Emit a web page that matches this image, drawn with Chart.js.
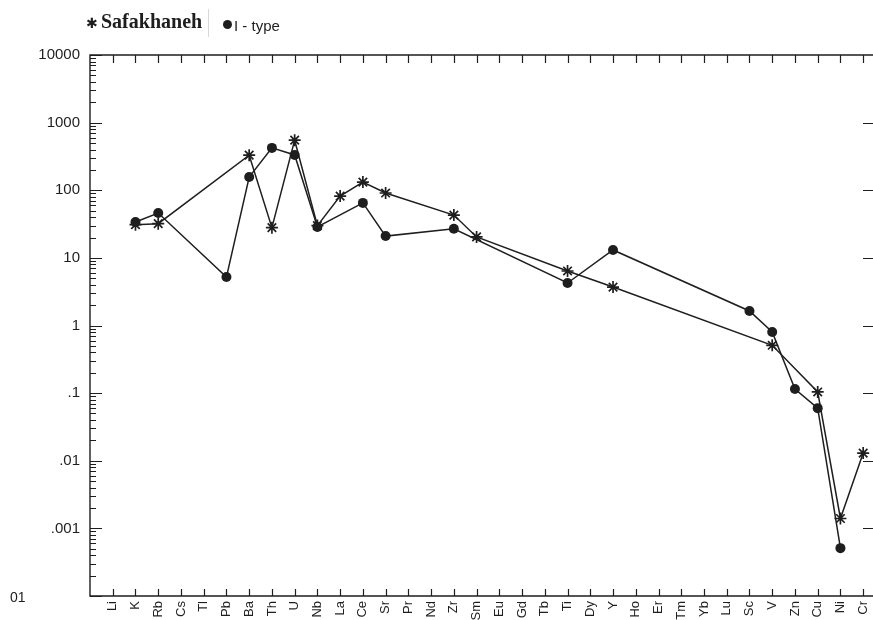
<!DOCTYPE html>
<html lang="en">

<head>
   <meta charset="UTF-8">
   <title>Safakhaneh vs I-type spider diagram</title>
   <script src="https://cdn.jsdelivr.net/npm/chart.js@4/dist/chart.umd.min.js"></script>
   <style>
      html, body { margin: 0; padding: 0; background: #fff; overflow: hidden; }
      .wrap { position: relative; width: 900px; height: 640px; }
      #myChart { position: absolute; left: 0; top: 0; }
      .legend span { position: absolute; white-space: nowrap; color: #1e1e1e; }
      .lg-star { left: 86px; top: 16px; font: 14px "DejaVu Sans"; line-height: 14px; }
      .lg-name1 { left: 101px; top: 11px; font: bold 20px "Liberation Serif"; line-height: 20px; }
      .lg-sep { left: 208px; top: 9px; width: 1px; height: 28px; background: #d8d8d8; }
      .lg-dot { left: 223px; top: 20px; width: 9px; height: 9px; border-radius: 50%; background: #1e1e1e; }
      .lg-name2 { left: 234px; top: 18px; font: 15px "Liberation Sans"; line-height: 15px; }
   </style>
</head>

<body>
   <div class="wrap">
      <canvas id="myChart" width="900" height="640"></canvas>
      <div class="legend">
         <span class="lg-star">✱</span>
         <span class="lg-name1">Safakhaneh</span>
         <span class="lg-sep"></span>
         <span class="lg-dot"></span>
         <span class="lg-name2">I - type</span>
      </div>
   </div>

   <script>
      // elements along the x axis
      const elements = ['Li', 'K', 'Rb', 'Cs', 'Tl', 'Pb', 'Ba', 'Th', 'U', 'Nb', 'La', 'Ce', 'Sr', 'Pr', 'Nd', 'Zr', 'Sm',
         'Eu', 'Gd', 'Tb', 'Ti', 'Dy', 'Y', 'Ho', 'Er', 'Tm', 'Yb', 'Lu', 'Sc', 'V', 'Zn', 'Cu', 'Ni', 'Cr'];

      // Safakhaneh (star markers), null = not plotted
      const safakhaneh = [null, 31, 32, null, null, null, 330, 28, 550, 30, 82, 132, 91, null, null, 43, 20.4,
         null, null, null, 6.4, null, 3.7, null, null, null, null, null, null, 0.51, null, 0.104, 0.0014, 0.013];

      // I-type (filled circles)
      const iType = [null, 34, 46, null, null, 5.2, 157, 423, 333, 28.6, null, 65, 21, null, null, 27, null,
         null, null, null, 4.25, null, 13.1, null, null, null, null, null, 1.64, 0.80, 0.115, 0.060, 0.00051, null];

      // y axis decades and their printed labels
      const yDecades = [10000, 1000, 100, 10, 1, 0.1, 0.01, 0.001, 0.0001];
      const yLabels = ['10000', '1000', '100', '10', '1', '.1', '.01', '.001', ''];
      const yBottomLabel = '01';

      const ink = '#1e1e1e';

      const toPoints = arr => arr.map((v, i) => ({ x: i, y: v }));

      // inward tick marks on all four sides + the frame
      const frameTicks = {
         id: 'frameTicks',
         afterDraw(chart) {
            const { ctx, chartArea: a, scales } = chart;
            const xs = scales.x, ys = scales.y;
            ctx.save();
            ctx.strokeStyle = ink;
            ctx.lineWidth = 1.4;
            ctx.beginPath();
            ctx.moveTo(a.right, a.top);
            ctx.lineTo(a.left, a.top);
            ctx.lineTo(a.left, a.bottom);
            ctx.lineTo(a.right, a.bottom);
            ctx.stroke();

            ctx.lineWidth = 1.2;
            ctx.beginPath();
            elements.forEach((e, i) => {
               const px = Math.round(xs.getPixelForValue(i)) + 0.5;
               ctx.moveTo(px, a.bottom);
               ctx.lineTo(px, a.bottom - 7);
               ctx.moveTo(px, a.top);
               ctx.lineTo(px, a.top + 8);
            });
            yDecades.forEach((d, k) => {
               const py = Math.round(ys.getPixelForValue(d)) + 0.5;
               ctx.moveTo(a.left, py);
               ctx.lineTo(a.left + 12, py);
               if (k > 0 && k < yDecades.length - 1) {
                  ctx.moveTo(a.right, py);
                  ctx.lineTo(a.right - 12, py);
               }
               if (d < 10000) {
                  for (let m = 2; m <= 9; m++) {
                     const my = Math.round(ys.getPixelForValue(d * m)) + 0.5;
                     ctx.moveTo(a.left, my);
                     ctx.lineTo(a.left + 6, my);
                  }
               }
            });
            ctx.stroke();

            ctx.fillStyle = ink;
            ctx.font = '14px "Liberation Sans"';
            ctx.textBaseline = 'middle';
            ctx.textAlign = 'left';
            ctx.fillText(yBottomLabel, 10, ys.getPixelForValue(0.0001) + 2);
            ctx.restore();
         }
      };

      const config = {
         type: 'line',
         data: {
            datasets: [
               {
                  label: 'Safakhaneh',
                  data: toPoints(safakhaneh),
                  borderColor: ink,
                  borderWidth: 1.5,
                  pointStyle: 'star',
                  pointRadius: 6,
                  pointBorderWidth: 1.7,
                  pointBorderColor: ink,
                  pointBackgroundColor: ink,
                  spanGaps: true,
                  tension: 0
               },
               {
                  label: 'I - type',
                  data: toPoints(iType),
                  borderColor: ink,
                  borderWidth: 1.5,
                  pointStyle: 'circle',
                  pointRadius: 5,
                  pointBorderWidth: 0,
                  pointBackgroundColor: ink,
                  spanGaps: true,
                  tension: 0
               }
            ]
         },
         options: {
            responsive: false,
            animation: false,
            layout: { padding: { right: 25 } },
            plugins: {
               legend: { display: false },
               tooltip: { enabled: false }
            },
            scales: {
               x: {
                  type: 'linear',
                  min: -1,
                  max: 33.52,
                  afterBuildTicks: s => { s.ticks = elements.map((e, i) => ({ value: i })); },
                  afterFit: s => { s.height = 44; },
                  grid: { display: false, drawTicks: false },
                  border: { display: false },
                  ticks: {
                     autoSkip: false,
                     minRotation: 90,
                     maxRotation: 90,
                     padding: 5,
                     color: ink,
                     font: { family: 'Liberation Sans', size: 13 },
                     callback: v => elements[v] ?? ''
                  }
               },
               xTop: {
                  type: 'linear',
                  position: 'top',
                  min: -1,
                  max: 33.52,
                  afterFit: s => { s.height = 55; },
                  grid: { display: false, drawTicks: false },
                  border: { display: false },
                  ticks: { display: false }
               },
               y: {
                  type: 'logarithmic',
                  min: 0.0001,
                  max: 10000,
                  afterBuildTicks: s => { s.ticks = yDecades.map(v => ({ value: v })); },
                  afterFit: s => { s.width = 90; },
                  grid: { display: false, drawTicks: false },
                  border: { display: false },
                  ticks: {
                     padding: 10,
                     color: ink,
                     font: { family: 'Liberation Sans', size: 15 },
                     callback: v => {
                        const k = yDecades.findIndex(d => Math.abs(Math.log10(d) - Math.log10(v)) < 1e-6);
                        return k >= 0 ? yLabels[k] : '';
                     }
                  }
               }
            }
         },
         plugins: [frameTicks]
      };

      const ctx = document.getElementById('myChart').getContext('2d');
      const chart = new Chart(ctx, config);
   </script>
</body>

</html>
